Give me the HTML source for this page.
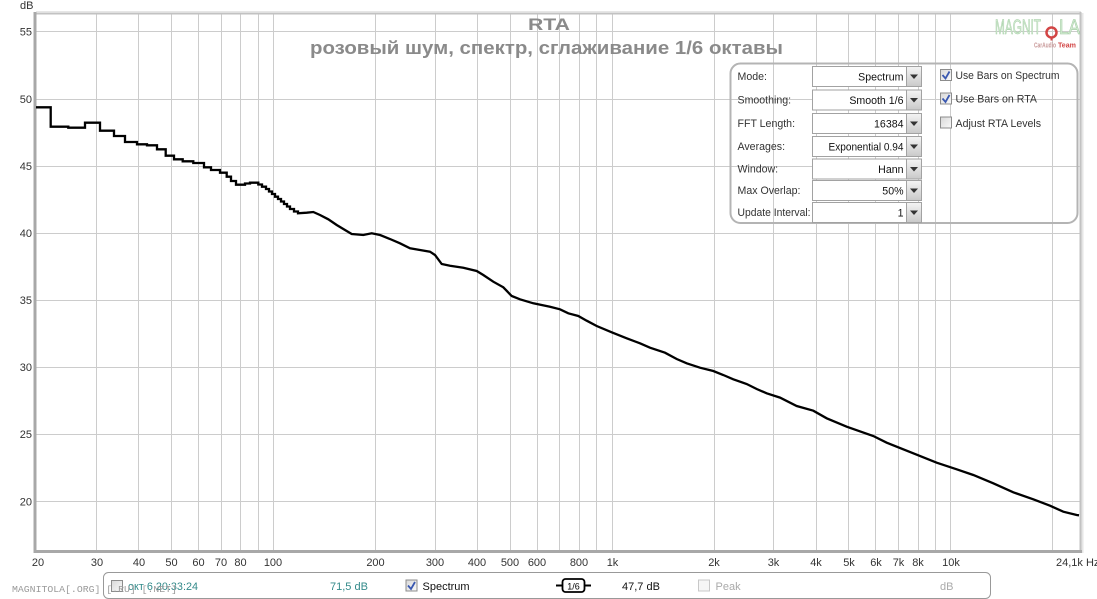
<!DOCTYPE html>
<html><head><meta charset="utf-8">
<style>
html,body{margin:0;padding:0;background:#fff;}
svg{display:block;font-family:"Liberation Sans","Noto Sans CJK JP",sans-serif;}
</style></head>
<body>
<svg width="1097" height="599" viewBox="0 0 1097 599" xmlns="http://www.w3.org/2000/svg">
<defs>
<linearGradient id="btn" x1="0" y1="0" x2="0" y2="1">
<stop offset="0" stop-color="#f4f4f4"/><stop offset="1" stop-color="#c9c9c9"/>
</linearGradient>
<linearGradient id="cb" x1="0" y1="0" x2="1" y2="1">
<stop offset="0" stop-color="#d8d8d8"/><stop offset="1" stop-color="#fafafa"/>
</linearGradient>
</defs>
<rect width="1097" height="599" fill="#fff"/>

<!-- gridlines -->
<g stroke="#cccccc" stroke-width="1" fill="none">
<path d="M96.5 13V551M138.5 13V551M171.5 13V551M198.5 13V551M221.5 13V551M240.5 13V551M258.5 13V551M273.5 13V551M375.5 13V551M435.5 13V551M477.5 13V551M510.5 13V551M537.5 13V551M559.5 13V551M579.5 13V551M596.5 13V551M612.5 13V551M714.5 13V551M773.5 13V551M816.5 13V551M848.5 13V551M875.5 13V551M898.5 13V551M918.5 13V551M935.5 13V551M950.5 13V551M1052.5 13V551"/>
<path d="M36 31.5H1080M36 99.5H1080M36 166.5H1080M36 233.5H1080M36 300.5H1080M36 367.5H1080M36 434.5H1080M36 501.5H1080"/>
</g>

<!-- frame -->
<line x1="35" y1="13.5" x2="1081" y2="13.5" stroke="#c2c2c2" stroke-width="2"/>
<line x1="36" y1="11.5" x2="1081" y2="11.5" stroke="#e6e6e6" stroke-width="1"/>
<line x1="1080.5" y1="12" x2="1080.5" y2="553" stroke="#c2c2c2" stroke-width="2"/>
<line x1="1082.5" y1="13" x2="1082.5" y2="553" stroke="#e6e6e6" stroke-width="2"/>
<line x1="35" y1="12" x2="35" y2="553" stroke="#a8a8a8" stroke-width="3"/>
<line x1="34" y1="551.5" x2="1082" y2="551.5" stroke="#a8a8a8" stroke-width="3"/>

<!-- axis labels -->
<g font-size="11" fill="#333">
<text x="20" y="9">dB</text>
<g text-anchor="end">
<text x="32" y="35.5">55</text>
<text x="32" y="103">50</text>
<text x="32" y="170">45</text>
<text x="32" y="237">40</text>
<text x="32" y="304">35</text>
<text x="32" y="371">30</text>
<text x="32" y="438">25</text>
<text x="32" y="505.5">20</text>
</g>
<g text-anchor="middle">
<text x="38" y="566">20</text>
<text x="97" y="566">30</text>
<text x="139" y="566">40</text>
<text x="171.5" y="566">50</text>
<text x="198.5" y="566">60</text>
<text x="221" y="566">70</text>
<text x="240.5" y="566">80</text>
<text x="273" y="566">100</text>
<text x="375.5" y="566">200</text>
<text x="435" y="566">300</text>
<text x="477" y="566">400</text>
<text x="510" y="566">500</text>
<text x="537" y="566">600</text>
<text x="579" y="566">800</text>
<text x="612.5" y="566">1k</text>
<text x="714" y="566">2k</text>
<text x="773.5" y="566">3k</text>
<text x="816" y="566">4k</text>
<text x="849" y="566">5k</text>
<text x="876" y="566">6k</text>
<text x="898.5" y="566">7k</text>
<text x="918" y="566">8k</text>
<text x="951" y="566">10k</text>
</g>
<text x="1056" y="566">24,1k Hz</text>
</g>

<!-- title -->
<text x="549" y="30" text-anchor="middle" font-size="16.5" font-weight="bold" fill="#8a8a8a" textLength="42" lengthAdjust="spacingAndGlyphs">RTA</text>
<text x="310" y="54" font-size="18" font-weight="bold" fill="#8a8a8a" textLength="473" lengthAdjust="spacingAndGlyphs">розовый шум, спектр, сглаживание 1/6 октавы</text>

<!-- logo -->
<g>
<text x="995" y="34" font-size="21" fill="#d6ecd6" stroke="#9fcb9f" stroke-width="0.6" textLength="46" lengthAdjust="spacingAndGlyphs">MAGNIT</text>
<circle cx="1051.5" cy="32.5" r="5" fill="none" stroke="#d24545" stroke-width="2.5"/>
<line x1="1051.5" y1="37.5" x2="1051.5" y2="40.5" stroke="#d24545" stroke-width="2"/>
<text x="1059" y="34" font-size="21" fill="#d6ecd6" stroke="#9fcb9f" stroke-width="0.6" textLength="21" lengthAdjust="spacingAndGlyphs">LA</text>
<text x="1034" y="47.5" font-size="7" font-weight="bold" fill="#c99a9a" textLength="22" lengthAdjust="spacingAndGlyphs">CarAudio</text>
<text x="1058" y="47.5" font-size="7" font-weight="bold" fill="#d24545" textLength="18" lengthAdjust="spacingAndGlyphs">Team</text>
</g>

<!-- curve -->
<polyline fill="none" stroke="#000" stroke-width="2.3" stroke-linejoin="miter" points="36,107.3 50.7,107.3 50.7,126.7 68.3,126.7 68.3,127.7 85,127.7 85,122.7 100,122.7 100,130.7 114,130.7 114,136 125,136 125,142 137,142 137,144.3 147,144.3 147,145.3 157,145.3 157,149.3 165.7,149.3 165.7,155.7 174,155.7 174,159.3 182.7,159.3 182.7,161.3 193.3,161.3 193.3,163 204,163 204,167.3 211,167.3 211,170 220,170 220,172.7 226.7,172.7 226.7,176.7 231,176.7 231,181 236,181 236,184.7 245,184.7 245,183.5 250,183.5 250,182.7 258.3,182.7 258.3,184.5 262,184.5 262,186.7 266,186.7 266,189 269,189 269,191.5 272,191.5 272,194 275,194 275,196.7 278,196.7 278,199 281,199 281,201.5 284,201.5 284,204 287,204 287,206.5 290,206.5 290,209 294,209 294,211.5 298,211.5 298,213.3 306.7,212.7 313.3,212 320,215 328.3,219.3 336.7,225 345,230 351.7,234 363.3,235 371.7,233.3 380,235 390,239 400,243.3 410,248.3 420,250 430,251.7 435,255 441.7,264 450,265.7 463.3,267.7 476.7,271 483.3,275 493.3,281.7 503.3,287.3 511.7,296 520,299.3 533.3,303.3 550,306.7 560,309.3 568.3,313.3 578.3,316 586.7,320.7 596.7,326 611.7,332.3 626.7,338.3 640,343.3 650,347.7 665,352.7 676.7,359 686.7,363.3 700,367.7 713.3,371 723.3,375 733.3,379.3 746.7,384 756.7,389 766.7,393.3 780,397.6 796.7,406 813.3,410.7 826.7,418.3 846.7,426.7 873.3,436 886.7,442.7 913.3,453.3 936.7,462.7 956.7,469.3 973.3,475 993.3,483.3 1013.3,492.3 1033.3,499.3 1050,505.7 1063.3,511.7 1076.7,515 1079,515.3"/>

<!-- settings panel -->
<rect x="730.5" y="63.5" width="347" height="159.5" rx="10" ry="10" fill="none" stroke="#b4b4b4" stroke-width="2"/>
<g font-size="10.6" fill="#333">
<text x="737.5" y="80">Mode:</text>
<text x="737.5" y="103.5">Smoothing:</text>
<text x="737.5" y="127">FFT Length:</text>
<text x="737.5" y="150">Averages:</text>
<text x="737.5" y="172.5">Window:</text>
<text x="737.5" y="194">Max Overlap:</text>
<text x="737.5" y="216" textLength="73" lengthAdjust="spacingAndGlyphs">Update Interval:</text>
</g>
<g>
<g id="dd">
</g>
<rect x="812.5" y="66.5" width="109" height="20" fill="#fff" stroke="#a2a2a2"/>
<rect x="812.5" y="90" width="109" height="20" fill="#fff" stroke="#a2a2a2"/>
<rect x="812.5" y="113.5" width="109" height="20" fill="#fff" stroke="#a2a2a2"/>
<rect x="812.5" y="136.5" width="109" height="20" fill="#fff" stroke="#a2a2a2"/>
<rect x="812.5" y="159" width="109" height="20" fill="#fff" stroke="#a2a2a2"/>
<rect x="812.5" y="180.5" width="109" height="20" fill="#fff" stroke="#a2a2a2"/>
<rect x="812.5" y="202.5" width="109" height="20" fill="#fff" stroke="#a2a2a2"/>
<g fill="url(#btn)" stroke="#a2a2a2">
<rect x="906.5" y="66.5" width="15" height="20"/>
<rect x="906.5" y="90" width="15" height="20"/>
<rect x="906.5" y="113.5" width="15" height="20"/>
<rect x="906.5" y="136.5" width="15" height="20"/>
<rect x="906.5" y="159" width="15" height="20"/>
<rect x="906.5" y="180.5" width="15" height="20"/>
<rect x="906.5" y="202.5" width="15" height="20"/>
</g>
<g fill="#333">
<polygon points="910,74.5 918,74.5 914,79"/>
<polygon points="910,98 918,98 914,102.5"/>
<polygon points="910,121.5 918,121.5 914,126"/>
<polygon points="910,144.5 918,144.5 914,149"/>
<polygon points="910,167 918,167 914,171.5"/>
<polygon points="910,188.5 918,188.5 914,193"/>
<polygon points="910,210.5 918,210.5 914,215"/>
</g>
<g font-size="10.6" fill="#111" text-anchor="end">
<text x="903.5" y="80.5">Spectrum</text>
<text x="903.5" y="104">Smooth 1/6</text>
<text x="903.5" y="127.5">16384</text>
<text x="903.5" y="150.5" textLength="75" lengthAdjust="spacingAndGlyphs">Exponential 0.94</text>
<text x="903.5" y="173">Hann</text>
<text x="903.5" y="194.5">50%</text>
<text x="903.5" y="216.5">1</text>
</g>
</g>
<g stroke="#8c8c8c" fill="url(#cb)">
<rect x="940.5" y="69.5" width="11" height="11"/>
<rect x="940.5" y="93" width="11" height="11"/>
<rect x="940.5" y="117" width="11" height="11"/>
</g>
<g fill="none" stroke="#3a58b0" stroke-width="1.8">
<polyline points="942.5,75 945.5,78.5 949.5,71.5"/>
<polyline points="942.5,98.5 945.5,102 949.5,95"/>
</g>
<g font-size="10.6" fill="#333">
<text x="955.5" y="79" textLength="104" lengthAdjust="spacingAndGlyphs">Use Bars on Spectrum</text>
<text x="955.5" y="102.5">Use Bars on RTA</text>
<text x="955.5" y="127">Adjust RTA Levels</text>
</g>

<!-- bottom bar -->
<rect x="103.5" y="572.5" width="887" height="26" rx="5" ry="5" fill="#fff" stroke="#999"/>
<rect x="111.5" y="580.5" width="11" height="11" fill="url(#cb)" stroke="#8c8c8c"/>
<text x="128" y="590" font-size="11" fill="#338a8a" textLength="70" lengthAdjust="spacingAndGlyphs">окт 6 20:33:24</text>
<text x="330" y="590" font-size="11" fill="#338a8a">71,5 dB</text>
<rect x="406" y="580" width="11" height="11" fill="url(#cb)" stroke="#8c8c8c"/>
<polyline points="408,585.5 411,589 415,582" fill="none" stroke="#3a58b0" stroke-width="1.8"/>
<text x="422.5" y="590" font-size="11" fill="#111">Spectrum</text>
<line x1="556" y1="585.5" x2="562" y2="585.5" stroke="#000" stroke-width="2"/>
<rect x="562.5" y="579" width="22" height="13" rx="3" fill="#fff" stroke="#000" stroke-width="1.8"/>
<line x1="585" y1="585.5" x2="591" y2="585.5" stroke="#000" stroke-width="2"/>
<text x="573.5" y="589.5" font-size="9" text-anchor="middle" fill="#000">1/6</text>
<text x="622" y="590" font-size="11" fill="#111">47,7 dB</text>
<rect x="698.5" y="580" width="11" height="11" fill="#f6f6f6" stroke="#c8c8c8"/>
<text x="715.5" y="590" font-size="11" fill="#aaa">Peak</text>
<text x="940" y="590" font-size="11" fill="#aaa">dB</text>

<!-- watermark -->
<text x="12" y="592" font-family="Liberation Mono, monospace" font-size="9" fill="#9a9a9a" textLength="165" lengthAdjust="spacingAndGlyphs">MAGNITOLA[.ORG] [.RU] [.NET]</text>
</svg>
</body></html>
